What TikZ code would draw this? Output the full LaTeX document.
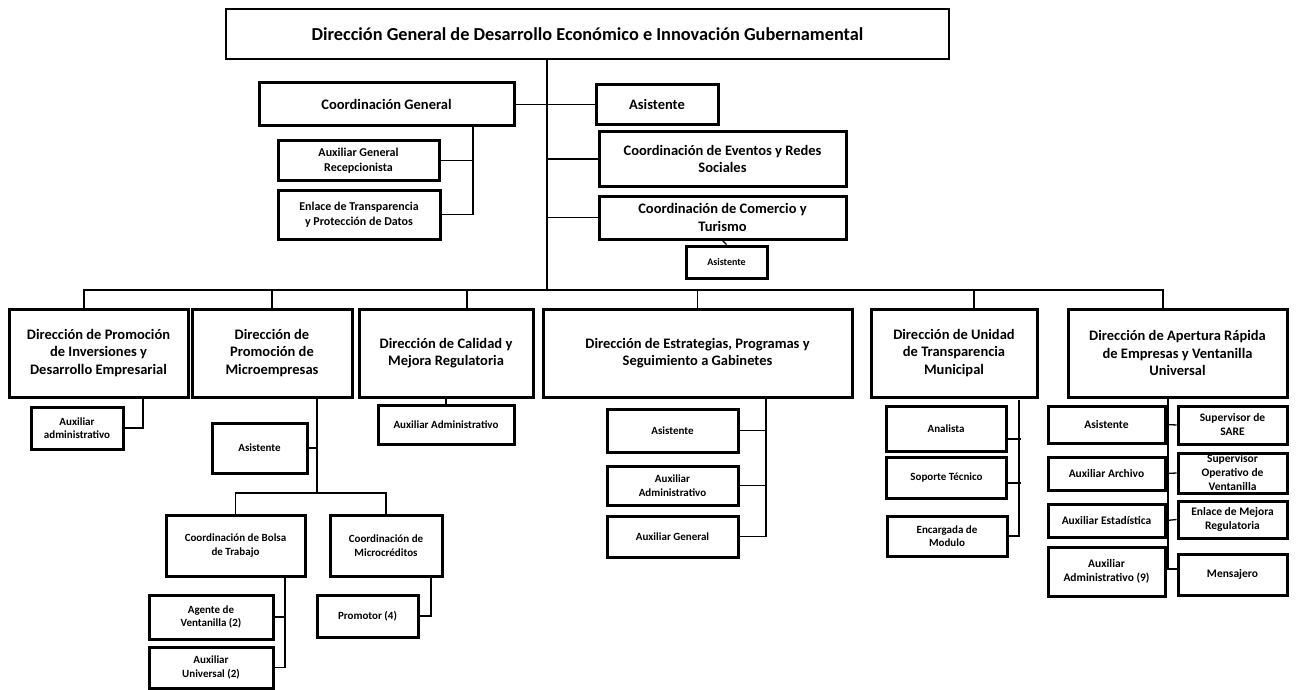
\documentclass[tikz,border=0pt]{standalone}
\usepackage{fontspec}
\setmainfont{Carlito}
\usepackage{tikz}

\begin{document}
\begin{tikzpicture}[x=1pt,y=-1pt]

    \tikzstyle{orgbox}=[draw,line width=3pt,align=center,inner sep=1pt]
    \tikzstyle{link}=[line width=1.3pt]
    \tikzstyle{tfont}=[font=\fontsize{18.3}{22}\selectfont\bfseries]
    \tikzstyle{mfont}=[font=\fontsize{14.5}{17.5}\selectfont\bfseries]
    \tikzstyle{rfont}=[font=\fontsize{12}{15}\selectfont\bfseries]
    \tikzstyle{afont}=[font=\fontsize{11.5}{14}\selectfont\bfseries]
    \tikzstyle{sfont}=[font=\fontsize{11}{13.5}\selectfont\bfseries]
    \tikzstyle{cfont}=[font=\fontsize{11}{13.5}\selectfont\bfseries]
    \tikzset{boxsize/.style 2 args={minimum width=#1,minimum height=#2}}

    \useasboundingbox (0,0) rectangle (1298,690);

    %% Head
    \node[orgbox,line width=2.2pt,tfont,boxsize={723}{50}] (dg) at (587.5,34) {Dirección General de Desarrollo Económico e Innovación Gubernamental};

    %% Second level
    \node[orgbox,mfont,boxsize={255}{43}] (cgen) at (386.5,104.5) {Coordinación General};
    \node[orgbox,mfont,boxsize={122}{40}] (asis1) at (657,104.5) {Asistente};
    \node[orgbox,mfont,boxsize={247}{54}] (eventos) at (722.5,159) {Coordinación de Eventos y Redes\\Sociales};
    \node[orgbox,mfont,boxsize={247}{43}] (comercio) at (722.5,217.5) {Coordinación de Comercio y\\Turismo};
    \node[orgbox,font=\fontsize{10}{12}\selectfont\bfseries,boxsize={81}{32}] (asis2) at (726.5,262) {Asistente};
    \node[orgbox,rfont,boxsize={161}{39}] (auxgen) at (358.5,160.5) {Auxiliar General\\Recepcionista};
    \node[orgbox,rfont,boxsize={162}{49}] (enlace) at (359,214.5) {Enlace de Transparencia\\y Protección de Datos};

    \coordinate (bus) at (547,290);
    \coordinate (busl) at (84,290);
    \coordinate (busr) at (1163,290);
    \coordinate (cgv) at (473,214);

    \draw[link] (dg.south -| bus) -- (bus);
    \draw[link] (busl) -- (busr);
    \draw[link] (cgen.east) -- (cgen.east -| asis1.west);
    \draw[link] (bus |- eventos.west) -- (eventos.west);
    \draw[link] (bus |- comercio.west) -- (comercio.west);
    \draw[link] (comercio.south) -- (asis2.north);
    \draw[link] (cgen.south -| cgv) |- (enlace.east);
    \draw[link] (auxgen.east) -- (auxgen.east -| cgv);

    %% Direcciones
    \node[orgbox,mfont,boxsize={179}{88}] (dinv) at (98.5,353) {Dirección de Promoción\\de Inversiones y\\Desarrollo Empresarial};
    \node[orgbox,mfont,boxsize={160}{88}] (dmicro) at (272,353) {Dirección de\\Promoción de\\Microempresas};
    \node[orgbox,mfont,boxsize={174}{88}] (dcal) at (446,353) {Dirección de Calidad y\\Mejora Regulatoria};
    \node[orgbox,mfont,boxsize={309}{88}] (destr) at (697.5,353) {Dirección de Estrategias, Programas y\\Seguimiento a Gabinetes};
    \node[orgbox,mfont,boxsize={166}{88}] (duni) at (954,353) {Dirección de Unidad\\de Transparencia\\Municipal};
    \node[orgbox,mfont,boxsize={219}{88}] (daper) at (1177.5,353) {Dirección de Apertura Rápida\\de Empresas y Ventanilla\\Universal};

    \foreach \d/\s in {dinv/-14.5,dmicro/0,dcal/21,destr/0,duni/20,daper/-14.5}
        \draw[link] ([xshift=\s pt]\d.north) -- ++(0,-19);

    %% Promocion de Inversiones
    \node[orgbox,sfont,boxsize={92}{42}] (auxinv) at (77,428) {Auxiliar\\administrativo};
    \draw[link] (auxinv.east) -| ([xshift=44.5pt]dinv.south);

    %% Microempresas
    \node[orgbox,sfont,boxsize={95}{50}] (masis) at (259.5,448) {Asistente};
    \node[orgbox,cfont,boxsize={139}{61}] (bolsa) at (235.5,545.5) {Coordinación de Bolsa\\de Trabajo};
    \node[orgbox,cfont,boxsize={112}{61}] (mcred) at (386,545.5) {Coordinación de\\Microcréditos};
    \node[orgbox,sfont,boxsize={124}{44}] (agente) at (211,617) {Agente de\\Ventanilla (2)};
    \node[orgbox,sfont,boxsize={124}{41}] (auxuni) at (211,667.5) {Auxiliar\\Universal (2)};
    \node[orgbox,sfont,boxsize={101}{42}] (promotor) at (367.5,616) {Promotor (4)};

    \coordinate (mv) at (317,493);
    \coordinate (bv) at (285,667.5);
    \draw[link] (dmicro.south -| mv) -- (mv);
    \draw[link] (masis.east) -- (masis.east -| mv);
    \draw[link] (bolsa.north) |- (mv) -| (mcred.north);
    \draw[link] (bolsa.south -| bv) -- (bv) -- (auxuni.east);
    \draw[link] (agente.east) -- (agente.east -| bv);
    \draw[link] ([xshift=45pt]mcred.south) |- (promotor.east);

    %% Calidad
    \node[orgbox,sfont,boxsize={136}{39}] (auxcal) at (446,424.5) {Auxiliar Administrativo};
    \draw[link] (dcal.south) -- (auxcal.north);

    %% Estrategias
    \node[orgbox,sfont,boxsize={131}{43}] (easis) at (672.5,430.5) {Asistente};
    \node[orgbox,sfont,boxsize={131}{39}] (eaux) at (672.5,485.5) {Auxiliar\\Administrativo};
    \node[orgbox,sfont,boxsize={131}{41}] (egen) at (672.5,536.5) {Auxiliar General};

    \coordinate (ev) at (766,536.5);
    \draw[link] (destr.south -| ev) |- (egen.east);
    \foreach \n in {easis,eaux}
        \draw[link] (\n.east) -- (\n.east -| ev);

    %% Unidad de Transparencia
    \node[orgbox,sfont,boxsize={120}{45}] (anal) at (946,428.5) {Analista};
    \node[orgbox,sfont,boxsize={120}{41}] (soporte) at (946.5,477.5) {Soporte Técnico};
    \node[orgbox,sfont,boxsize={120}{40}] (encarg) at (947,536) {Encargada de\\Modulo};

    \coordinate (uvtop) at (1019,400);
    \draw[link] (uvtop) |- (encarg.east);
    \draw[link] ([yshift=-10.5pt]anal.east) -- +(13,0);
    \draw[link] ([yshift=-5.5pt]soporte.east) -- +(12.5,0);

    %% Apertura Rapida
    \node[orgbox,afont,boxsize={117}{37}] (a1) at (1106.5,424.5) {Asistente};
    \node[orgbox,afont,boxsize={117}{33}] (a2) at (1106.5,473.5) {Auxiliar Archivo};
    \node[orgbox,afont,boxsize={117}{33}] (a3) at (1106.5,520.5) {Auxiliar Estadística};
    \node[orgbox,afont,boxsize={117}{49}] (a4) at (1106.5,571.5) {Auxiliar\\Administrativo (9)};
    \node[orgbox,afont,boxsize={109}{38}] (b1) at (1232.5,425) {Supervisor de\\SARE};
    \node[orgbox,afont,boxsize={109}{40}] (b2) at (1232.5,473) {Supervisor\\Operativo de\\Ventanilla};
    \node[orgbox,afont,boxsize={109}{37}] (b3) at (1232.5,519.5) {Enlace de Mejora\\Regulatoria};
    \node[orgbox,afont,boxsize={109}{41}] (b4) at (1232.5,574.5) {Mensajero};

    \coordinate (av) at (1168,569);
    \draw[link] (daper.south -| av) -- (av);
    \draw[link] (a1.east) -- (b1.west);
    \draw[link] (a2.east) -- (b2.west);
    \draw[link] (a3.east) -- (b3.west);
    \draw[link] (a4.east |- av) -- (b4.west |- av);

\end{tikzpicture}
\end{document}
